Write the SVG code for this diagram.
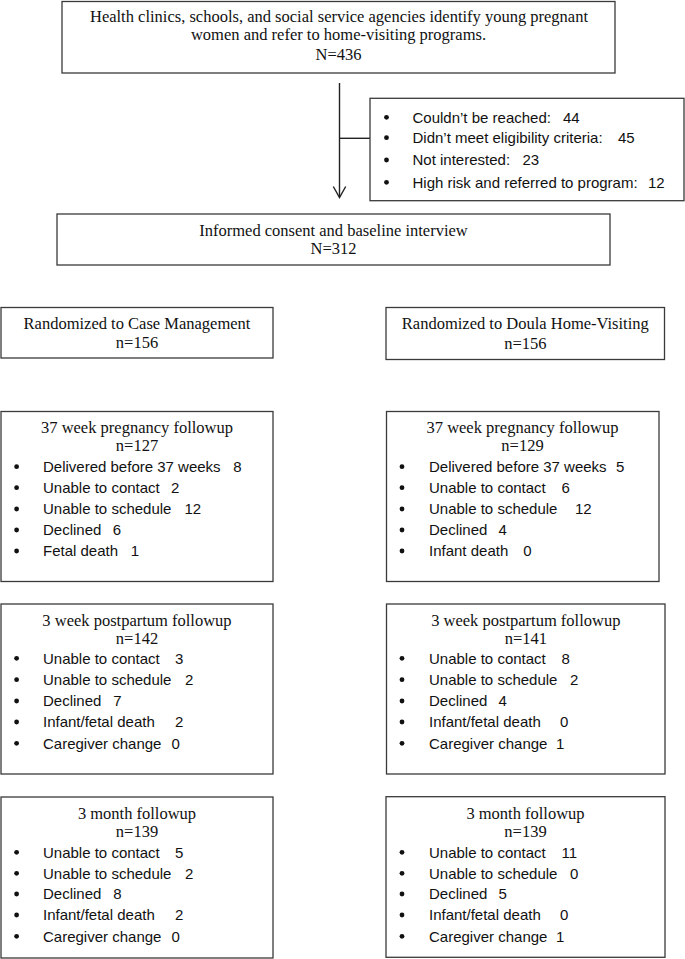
<svg xmlns="http://www.w3.org/2000/svg" width="685" height="959" viewBox="0 0 685 959">
<style>
.box{fill:#fff;stroke:#3a3a3a;stroke-width:1.3}
.s{font-family:"Liberation Serif","Times New Roman",serif;font-size:16.5px;fill:#111;text-anchor:middle}
.t{font-family:"Liberation Sans",Arial,sans-serif;font-size:15px;fill:#111}
.b{fill:#111}
.c{fill:none;stroke:#222;stroke-width:1.4}
</style>
<rect width="685" height="959" fill="#fff"/>
<g id="connectors">
<line class="c" x1="339.5" y1="83" x2="339.5" y2="197"/>
<polyline class="c" points="333.3,186.5 339.5,197.5 345.7,186.5"/>
<line class="c" x1="339.5" y1="138.3" x2="370" y2="138.3"/>
</g>
<g id="referral">
<rect class="box" x="62" y="1.5" width="553" height="71.5"/>
<text class="s" x="339" y="21.5">Health clinics, schools, and social service agencies identify young pregnant</text>
<text class="s" x="338.5" y="39.8">women and refer to home-visiting programs.</text>
<text class="s" x="338.5" y="59.7">N=436</text>
</g>
<g id="excluded">
<rect class="box" x="370" y="98.3" width="314" height="102.4"/>
<circle class="b" cx="386.5" cy="117.3" r="2.4"/><text class="t" x="412.5" y="122.6">Couldn’t be reached:<tspan x="563">44</tspan></text>
<circle class="b" cx="386.5" cy="137.7" r="2.4"/><text class="t" x="412.5" y="143">Didn’t meet eligibility criteria:<tspan x="618">45</tspan></text>
<circle class="b" cx="386.5" cy="160" r="2.4"/><text class="t" x="412.5" y="165.3">Not interested:<tspan x="522.5">23</tspan></text>
<circle class="b" cx="386.5" cy="182.3" r="2.4"/><text class="t" x="412.5" y="187.6">High risk and referred to program:<tspan x="648">12</tspan></text>
</g>
<g id="consent">
<rect class="box" x="57" y="214" width="553" height="51"/>
<text class="s" x="333.5" y="235.5">Informed consent and baseline interview</text>
<text class="s" x="333.5" y="253.7">N=312</text>
</g>
<g id="rand-cm">
<rect class="box" x="1" y="307.5" width="272" height="50.5"/>
<text class="s" x="137" y="328.8">Randomized to Case Management</text>
<text class="s" x="137" y="347.5">n=156</text>
</g>
<g id="rand-doula">
<rect class="box" x="386" y="307.5" width="278.5" height="52"/>
<text class="s" x="525.3" y="328.8">Randomized to Doula Home-Visiting</text>
<text class="s" x="525.3" y="348.5">n=156</text>
</g>
<g id="cm-37wk">
<rect class="box" x="1" y="411.5" width="272" height="170"/>
<text class="s" x="137" y="433">37 week pregnancy followup</text>
<text class="s" x="137" y="451">n=127</text>
<circle class="b" cx="16.6" cy="466.7" r="2.4"/><text class="t" x="43" y="472">Delivered before 37 weeks<tspan x="233.3">8</tspan></text>
<circle class="b" cx="16.6" cy="487.7" r="2.4"/><text class="t" x="43" y="493">Unable to contact<tspan x="171">2</tspan></text>
<circle class="b" cx="16.6" cy="509" r="2.4"/><text class="t" x="43" y="514.3">Unable to schedule<tspan x="184.5">12</tspan></text>
<circle class="b" cx="16.6" cy="530" r="2.4"/><text class="t" x="43" y="535.3">Declined<tspan x="112.7">6</tspan></text>
<circle class="b" cx="16.6" cy="551" r="2.4"/><text class="t" x="43" y="556.3">Fetal death<tspan x="130.7">1</tspan></text>
</g>
<g id="doula-37wk">
<rect class="box" x="386.5" y="411.5" width="272.5" height="170"/>
<text class="s" x="522.5" y="433">37 week pregnancy followup</text>
<text class="s" x="522.5" y="451">n=129</text>
<circle class="b" cx="402" cy="466.7" r="2.4"/><text class="t" x="429" y="472">Delivered before 37 weeks<tspan x="616">5</tspan></text>
<circle class="b" cx="402" cy="487.7" r="2.4"/><text class="t" x="429" y="493">Unable to contact<tspan x="561.5">6</tspan></text>
<circle class="b" cx="402" cy="509" r="2.4"/><text class="t" x="429" y="514.3">Unable to schedule<tspan x="575">12</tspan></text>
<circle class="b" cx="402" cy="530" r="2.4"/><text class="t" x="429" y="535.3">Declined<tspan x="498.5">4</tspan></text>
<circle class="b" cx="402" cy="551" r="2.4"/><text class="t" x="429" y="556.3">Infant death<tspan x="523.3">0</tspan></text>
</g>
<g id="cm-3wk">
<rect class="box" x="1" y="604" width="272" height="170"/>
<text class="s" x="137" y="625.5">3 week postpartum followup</text>
<text class="s" x="137" y="643.8">n=142</text>
<circle class="b" cx="16.6" cy="658.3" r="2.4"/><text class="t" x="43" y="663.6">Unable to contact<tspan x="175">3</tspan></text>
<circle class="b" cx="16.6" cy="679.7" r="2.4"/><text class="t" x="43" y="685">Unable to schedule<tspan x="185">2</tspan></text>
<circle class="b" cx="16.6" cy="701" r="2.4"/><text class="t" x="43" y="706.3">Declined<tspan x="113.3">7</tspan></text>
<circle class="b" cx="16.6" cy="722" r="2.4"/><text class="t" x="43" y="727.3">Infant/fetal death<tspan x="175">2</tspan></text>
<circle class="b" cx="16.6" cy="743.3" r="2.4"/><text class="t" x="43" y="748.6">Caregiver change<tspan x="171.5">0</tspan></text>
</g>
<g id="doula-3wk">
<rect class="box" x="386.5" y="604" width="278.5" height="170"/>
<text class="s" x="525.8" y="625.5">3 week postpartum followup</text>
<text class="s" x="525.8" y="643.8">n=141</text>
<circle class="b" cx="402" cy="658.3" r="2.4"/><text class="t" x="429" y="663.6">Unable to contact<tspan x="561.5">8</tspan></text>
<circle class="b" cx="402" cy="679.7" r="2.4"/><text class="t" x="429" y="685">Unable to schedule<tspan x="570">2</tspan></text>
<circle class="b" cx="402" cy="701" r="2.4"/><text class="t" x="429" y="706.3">Declined<tspan x="498.5">4</tspan></text>
<circle class="b" cx="402" cy="722" r="2.4"/><text class="t" x="429" y="727.3">Infant/fetal death<tspan x="560">0</tspan></text>
<circle class="b" cx="402" cy="743.3" r="2.4"/><text class="t" x="429" y="748.6">Caregiver change<tspan x="556">1</tspan></text>
</g>
<g id="cm-3mo">
<rect class="box" x="1" y="797" width="272" height="161"/>
<text class="s" x="137" y="818.8">3 month followup</text>
<text class="s" x="137" y="837.2">n=139</text>
<circle class="b" cx="16.6" cy="852.3" r="2.4"/><text class="t" x="43" y="857.6">Unable to contact<tspan x="175">5</tspan></text>
<circle class="b" cx="16.6" cy="873.3" r="2.4"/><text class="t" x="43" y="878.6">Unable to schedule<tspan x="185">2</tspan></text>
<circle class="b" cx="16.6" cy="894" r="2.4"/><text class="t" x="43" y="899.3">Declined<tspan x="113.3">8</tspan></text>
<circle class="b" cx="16.6" cy="915" r="2.4"/><text class="t" x="43" y="920.3">Infant/fetal death<tspan x="175">2</tspan></text>
<circle class="b" cx="16.6" cy="936.3" r="2.4"/><text class="t" x="43" y="941.6">Caregiver change<tspan x="171.5">0</tspan></text>
</g>
<g id="doula-3mo">
<rect class="box" x="386" y="796.7" width="279" height="160.6"/>
<text class="s" x="525.5" y="818.8">3 month followup</text>
<text class="s" x="525.5" y="837.2">n=139</text>
<circle class="b" cx="402" cy="852.3" r="2.4"/><text class="t" x="429" y="857.6">Unable to contact<tspan x="561.5">11</tspan></text>
<circle class="b" cx="402" cy="873.3" r="2.4"/><text class="t" x="429" y="878.6">Unable to schedule<tspan x="570">0</tspan></text>
<circle class="b" cx="402" cy="894" r="2.4"/><text class="t" x="429" y="899.3">Declined<tspan x="498.5">5</tspan></text>
<circle class="b" cx="402" cy="915" r="2.4"/><text class="t" x="429" y="920.3">Infant/fetal death<tspan x="560">0</tspan></text>
<circle class="b" cx="402" cy="936.3" r="2.4"/><text class="t" x="429" y="941.6">Caregiver change<tspan x="556">1</tspan></text>
</g>
</svg>
